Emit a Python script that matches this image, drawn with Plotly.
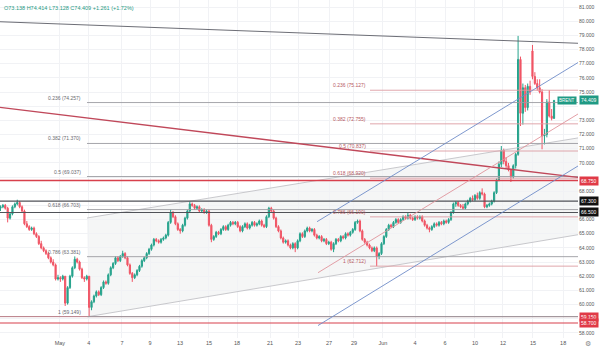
import plotly.graph_objects as go

# ---------------------------------------------------------------- data
# Brent, 4-hour candles (index = bar number)
opens = [
    66.8, 66.9, 67.0, 66.8, 66.1, 66.4, 66.9, 67.1, 67.2, 66.9,
    66.6, 65.7, 65.5, 65.3, 65.4, 65.0, 64.8, 64.3, 64.0, 63.8,
    63.6, 63.3, 63.0, 62.8, 61.8, 61.9, 61.8, 62.0, 60.1, 61.2,
    62.0, 62.6, 63.2, 63.0, 62.5, 61.9, 61.8, 62.0, 59.8, 60.2,
    60.6, 60.9, 60.7, 61.2, 61.6, 61.5, 62.1, 62.6, 62.9, 63.3,
    63.1, 63.4, 63.6, 63.3, 62.8, 62.2, 61.9, 62.1, 62.4, 62.7,
    63.1, 63.3, 63.6, 63.9, 64.2, 64.6, 64.5, 64.4, 64.6, 64.7,
    64.9, 65.8, 66.5, 66.2, 65.7, 65.3, 65.2, 65.6, 66.1, 66.6,
    67.1, 67.0, 66.8, 66.9, 66.6, 66.7, 66.5, 66.6, 65.6, 64.6,
    64.8, 65.1, 65.0, 65.3, 65.5, 65.3, 65.6, 65.8, 65.7, 65.8,
    65.5, 65.2, 65.5, 65.7, 65.4, 65.6, 65.8, 65.6, 65.7, 65.9,
    65.6, 65.5, 66.2, 66.8, 66.6, 66.1, 65.5, 65.2, 64.7, 64.4,
    64.5, 64.2, 64.0, 64.3, 64.0, 64.5, 65.0, 64.8, 65.2, 65.4,
    65.2, 65.3, 64.9, 64.7, 64.8, 64.5, 64.6, 64.3, 64.4, 63.9,
    64.3, 64.6, 64.5, 64.8, 64.7, 65.0, 64.9, 65.1, 65.3, 65.8,
    65.9, 65.2, 64.6, 64.4, 64.2, 64.0, 63.8, 64.0, 63.4, 63.6,
    64.3, 64.8, 65.3, 65.6, 65.5, 65.8, 66.0, 65.8, 66.0, 66.2,
    66.1, 66.3, 66.1, 66.0, 66.2, 66.1, 66.2, 65.9, 65.6, 65.4,
    65.3, 65.5, 65.7, 65.6, 65.8, 65.7, 65.9, 65.8, 66.0, 66.5,
    67.1, 67.2, 67.0, 66.9, 66.8, 67.1, 67.3, 67.5, 67.4, 67.7,
    67.5, 67.9, 67.8, 66.9, 67.0, 67.1, 67.3, 67.9, 68.8, 69.9,
    70.9, 70.1, 69.8, 69.5, 69.0, 69.8, 70.6, 77.3, 73.5, 75.3,
    73.9, 75.4, 77.9, 76.1, 75.6, 75.3, 75.0, 71.9, 72.0, 74.3,
    73.3, 73.138,
]
highs = [
    67.0, 67.1, 67.1, 66.9, 66.5, 67.0, 67.2, 67.4, 67.3, 67.0,
    66.7, 65.9, 65.6, 65.5, 65.5, 65.1, 64.9, 64.5, 64.1, 63.9,
    63.7, 63.4, 63.2, 62.9, 62.1, 62.0, 62.1, 62.0, 61.3, 62.1,
    62.7, 63.4, 63.3, 63.1, 62.6, 62.0, 62.1, 62.0, 60.3, 60.7,
    61.0, 61.0, 61.3, 61.7, 61.7, 62.2, 62.7, 63.0, 63.4, 63.4,
    63.5, 63.8, 63.7, 63.4, 62.9, 62.3, 62.2, 62.5, 62.8, 63.2,
    63.4, 63.7, 64.0, 64.3, 64.7, 64.7, 64.6, 64.7, 64.8, 65.0,
    65.9, 66.7, 66.6, 66.3, 65.8, 65.4, 65.7, 66.2, 66.7, 67.3,
    67.2, 67.1, 67.0, 67.0, 66.8, 66.8, 66.7, 66.7, 65.7, 64.9,
    65.2, 65.2, 65.4, 65.6, 65.6, 65.7, 65.9, 65.9, 65.9, 65.9,
    65.6, 65.6, 65.8, 65.8, 65.7, 65.9, 65.9, 65.8, 66.0, 66.0,
    65.7, 66.3, 66.9, 66.9, 66.7, 66.2, 65.6, 65.3, 64.8, 64.6,
    64.6, 64.3, 64.4, 64.4, 64.6, 65.1, 65.1, 65.3, 65.5, 65.5,
    65.4, 65.4, 65.0, 64.9, 64.9, 64.7, 64.7, 64.5, 64.5, 64.4,
    64.7, 64.7, 64.9, 64.9, 65.1, 65.1, 65.2, 65.4, 65.9, 66.0,
    66.0, 65.3, 64.7, 64.5, 64.3, 64.1, 64.1, 64.1, 63.7, 64.4,
    64.9, 65.4, 65.7, 65.7, 65.9, 66.1, 66.1, 66.1, 66.3, 66.3,
    66.5, 66.4, 66.2, 66.3, 66.3, 66.3, 66.3, 66.0, 65.7, 65.5,
    65.6, 65.8, 65.8, 65.9, 65.9, 66.0, 66.0, 66.1, 66.6, 67.2,
    67.3, 67.3, 67.1, 67.1, 67.2, 67.4, 67.6, 67.7, 67.8, 67.9,
    68.0, 68.2, 67.9, 67.1, 67.2, 67.4, 68.0, 68.9, 70.1, 71.19,
    71.0, 70.4, 70.0, 69.6, 69.9, 70.7, 78.96, 77.5, 75.6, 75.5,
    75.6, 75.8, 78.32, 76.4, 75.9, 75.9, 75.2, 72.4, 74.5, 75.14,
    73.8, 74.414,
]
lows = [
    66.6, 66.8, 66.7, 65.8, 66.0, 66.3, 66.8, 67.0, 66.8, 66.5,
    65.6, 65.4, 65.2, 65.2, 64.9, 64.7, 64.2, 63.9, 63.7, 63.5,
    63.2, 62.9, 62.7, 61.7, 61.7, 61.6, 61.7, 59.9, 60.0, 61.1,
    61.9, 62.5, 62.9, 62.4, 61.8, 61.6, 61.7, 59.149, 59.6, 60.1,
    60.5, 60.6, 60.6, 61.1, 61.4, 61.4, 62.0, 62.5, 62.8, 63.0,
    63.0, 63.3, 63.2, 62.7, 62.1, 61.6, 61.8, 62.0, 62.3, 62.6,
    63.0, 63.2, 63.5, 63.8, 64.1, 64.4, 64.3, 64.3, 64.5, 64.6,
    64.8, 65.7, 66.1, 65.6, 65.2, 65.0, 65.1, 65.5, 66.0, 66.5,
    66.9, 66.7, 66.7, 66.5, 66.5, 66.4, 66.4, 65.5, 64.4, 64.5,
    64.7, 64.9, 64.9, 65.2, 65.2, 65.2, 65.5, 65.6, 65.6, 65.4,
    65.1, 65.1, 65.4, 65.3, 65.3, 65.5, 65.5, 65.5, 65.6, 65.5,
    65.4, 65.4, 66.1, 66.5, 66.0, 65.4, 65.1, 64.6, 64.3, 64.3,
    64.1, 63.9, 63.9, 63.7, 63.9, 64.4, 64.7, 64.7, 65.1, 65.1,
    65.1, 64.8, 64.6, 64.6, 64.4, 64.4, 64.2, 64.2, 63.8, 63.7,
    64.2, 64.4, 64.4, 64.6, 64.6, 64.8, 64.8, 65.0, 65.2, 65.7,
    65.1, 64.5, 64.3, 64.1, 63.9, 63.7, 63.7, 62.712, 63.2, 63.5,
    64.2, 64.7, 65.2, 65.4, 65.4, 65.7, 65.7, 65.7, 65.9, 66.0,
    66.0, 66.0, 65.9, 65.9, 66.0, 66.0, 65.8, 65.5, 65.3, 65.1,
    65.2, 65.4, 65.5, 65.5, 65.6, 65.6, 65.7, 65.7, 65.9, 66.4,
    66.9, 66.9, 66.8, 66.7, 66.7, 67.0, 67.2, 67.3, 67.3, 67.4,
    67.4, 67.7, 66.8, 66.8, 66.9, 67.0, 67.2, 67.8, 68.7, 69.7,
    69.9, 69.6, 69.4, 68.65, 68.9, 69.6, 70.5, 72.6, 72.7, 73.6,
    73.7, 74.8, 75.9, 75.5, 75.1, 74.9, 70.96, 71.3, 71.8, 73.2,
    73.0, 73.128,
]
closes = [
    66.9, 67.0, 66.8, 66.1, 66.4, 66.9, 67.1, 67.2, 66.9, 66.6,
    65.7, 65.5, 65.3, 65.4, 65.0, 64.8, 64.3, 64.0, 63.8, 63.6,
    63.3, 63.0, 62.8, 61.8, 61.9, 61.8, 62.0, 60.1, 61.2, 62.0,
    62.6, 63.2, 63.0, 62.5, 61.9, 61.8, 62.0, 59.8, 60.2, 60.6,
    60.9, 60.7, 61.2, 61.6, 61.5, 62.1, 62.6, 62.9, 63.3, 63.1,
    63.4, 63.6, 63.3, 62.8, 62.2, 61.9, 62.1, 62.4, 62.7, 63.1,
    63.3, 63.6, 63.9, 64.2, 64.6, 64.5, 64.4, 64.6, 64.7, 64.9,
    65.8, 66.5, 66.2, 65.7, 65.3, 65.2, 65.6, 66.1, 66.6, 67.1,
    67.0, 66.8, 66.9, 66.6, 66.7, 66.5, 66.6, 65.6, 64.6, 64.8,
    65.1, 65.0, 65.3, 65.5, 65.3, 65.6, 65.8, 65.7, 65.8, 65.5,
    65.2, 65.5, 65.7, 65.4, 65.6, 65.8, 65.6, 65.7, 65.9, 65.6,
    65.5, 66.2, 66.8, 66.6, 66.1, 65.5, 65.2, 64.7, 64.4, 64.5,
    64.2, 64.0, 64.3, 64.0, 64.5, 65.0, 64.8, 65.2, 65.4, 65.2,
    65.3, 64.9, 64.7, 64.8, 64.5, 64.6, 64.3, 64.4, 63.9, 64.3,
    64.6, 64.5, 64.8, 64.7, 65.0, 64.9, 65.1, 65.3, 65.8, 65.9,
    65.2, 64.6, 64.4, 64.2, 64.0, 63.8, 64.0, 63.4, 63.6, 64.3,
    64.8, 65.3, 65.6, 65.5, 65.8, 66.0, 65.8, 66.0, 66.2, 66.1,
    66.3, 66.1, 66.0, 66.2, 66.1, 66.2, 65.9, 65.6, 65.4, 65.3,
    65.5, 65.7, 65.6, 65.8, 65.7, 65.9, 65.8, 66.0, 66.5, 67.1,
    67.2, 67.0, 66.9, 66.8, 67.1, 67.3, 67.5, 67.4, 67.7, 67.5,
    67.9, 67.8, 66.9, 67.0, 67.1, 67.3, 67.9, 68.8, 69.9, 70.9,
    70.1, 69.8, 69.5, 69.0, 69.8, 70.6, 77.3, 73.5, 75.3, 73.9,
    75.4, 75.0, 76.1, 75.6, 75.3, 75.0, 71.9, 72.0, 74.3, 73.3,
    73.14, 74.409,
]

# time axis labels (bar number of each labelled session)
tick_bars = [24.8, 36.9, 50.7, 62.4, 74.9, 87.0, 98.7, 112.5, 124.2,
             137.1, 147.5, 159.6, 173.0, 185.5, 198.0, 209.7, 222.2, 234.8]
tick_text = ["May", "4", "7", "9", "13", "15", "18", "21", "23",
             "27", "29", "Jun", "4", "6", "10", "12", "15", "18"]

# price scale: round levels; the ones sitting under a price tag stay unlabelled
price_ticks = list(range(58, 82))
hidden_price_labels = [59, 67, 69, 74]

# Fibonacci retracements: (ratio, price)
fib_a_levels = [("0.236", 74.257), ("0.382", 71.370), ("0.5", 69.037),
                ("0.618", 66.703), ("0.786", 63.381), ("1", 59.149)]
fib_a_start = 36.1
fib_b_levels = [("0.236", 75.127), ("0.382", 72.755), ("0.5", 70.837),
                ("0.618", 68.920), ("0.786", 66.190), ("1", 62.712)]
fib_b_start = 154.2

# horizontal levels: (price, line colour, line width, tag background)
levels = [(68.75, "#d8404c", 1.5, "#e03a47"),
          (67.30, "#505258", 1.1, "#111111"),
          (66.50, "#505258", 1.1, "#111111"),
          (59.15, "#b87a84", 1.0, "#e03a47"),
          (58.70, "#d8404c", 1.1, "#e03a47")]

# trend lines: ((bar, price), (bar, price))
resistance_top = ((-0.2, 79.96), (241.0, 78.44))
falling_red = ((-0.2, 73.91), (241.0, 68.97))
gray_upper = ((36.1, 66.11), (241.0, 71.76))
gray_lower = ((36.9, 59.16), (241.0, 64.93))
blue_upper = ((132.1, 65.85), (241.0, 77.08))
blue_lower = ((132.5, 58.52), (241.0, 69.78))
pink_line = ((132.5, 62.25), (241.0, 73.45))

last_price = 74.409
header = "O73.138 H74.414 L73.128 C74.409 +1.261 (+1.72%)"

# ---------------------------------------------------------------- figure
UP, DOWN = "#26a38c", "#f05565"
FONT = "Liberation Sans, Arial, sans-serif"
bars = list(range(len(closes)))

fig = go.Figure(go.Candlestick(
    x=bars, open=opens, high=highs, low=lows, close=closes,
    increasing=dict(line=dict(color=UP, width=1), fillcolor=UP),
    decreasing=dict(line=dict(color=DOWN, width=1), fillcolor=DOWN),
    whiskerwidth=0, showlegend=False, hoverinfo="skip",
))

shapes = []


def seg(line, color, width=1.0, layer="above"):
    (x0, y0), (x1, y1) = line
    shapes.append(dict(type="line", xref="x", yref="y", x0=x0, y0=y0,
                       x1=x1, y1=y1, layer=layer,
                       line=dict(color=color, width=width)))


# shaded rising channel
(ux0, uy0), (ux1, uy1) = gray_upper
(lx0, ly0), (lx1, ly1) = gray_lower
shapes.append(dict(type="path", xref="x", yref="y", layer="below",
                   path=f"M {ux0},{uy0} L {ux1},{uy1} L {lx1},{ly1} L {lx0},{ly0} Z",
                   fillcolor="rgba(120,123,134,0.07)", line=dict(width=0)))
seg(gray_upper, "#c2c2c6", 0.9)
seg(gray_lower, "#c2c2c6", 0.9)

# full-width horizontal levels
for price, col, w, _ in levels:
    shapes.append(dict(type="line", xref="paper", yref="y", x0=0, x1=1,
                       y0=price, y1=price, layer="above",
                       line=dict(color=col, width=w)))

# Fibonacci levels
for _, price in fib_a_levels:
    shapes.append(dict(type="line", xref="x", yref="y", x0=fib_a_start,
                       x1=241.0, y0=price, y1=price, layer="above",
                       line=dict(color="#9c9ca2", width=0.9)))
for _, price in fib_b_levels:
    shapes.append(dict(type="line", xref="x", yref="y", x0=fib_b_start,
                       x1=241.0, y0=price, y1=price, layer="above",
                       line=dict(color="#dc9ca3", width=0.9)))

seg(resistance_top, "#5c5e66", 0.9)
seg(falling_red, "#c0485a", 1.3)
seg(blue_upper, "#6f8cc8", 0.9)
seg(blue_lower, "#6f8cc8", 0.9)
seg(pink_line, "#e0949c", 0.9)

annotations = []
for ratio, price in fib_a_levels:
    annotations.append(dict(xref="x", yref="y", x=fib_a_start - 1.7, y=price,
                            yshift=5, xanchor="right", yanchor="middle",
                            text=f"{ratio} ({price:.3f})", showarrow=False,
                            font=dict(family=FONT, size=5, color="#6a6a70")))
for ratio, price in fib_b_levels:
    annotations.append(dict(xref="x", yref="y", x=fib_b_start - 1.0, y=price,
                            yshift=5, xanchor="right", yanchor="middle",
                            text=f"{ratio} ({price:.3f})", showarrow=False,
                            font=dict(family=FONT, size=5, color="#b75a64")))

# price-scale tags
for price, _, _, bg in levels:
    annotations.append(dict(xref="paper", yref="y", x=1, xshift=1, y=price,
                            xanchor="left", yanchor="middle",
                            text=f"{price:.3f}", showarrow=False, bgcolor=bg,
                            borderpad=1,
                            font=dict(family=FONT, size=5, color="white")))
annotations.append(dict(xref="paper", yref="y", x=1, xshift=1, y=last_price,
                        xanchor="left", yanchor="middle",
                        text=f"{last_price:.3f}", showarrow=False,
                        bgcolor="#1f9a84", borderpad=1,
                        font=dict(family=FONT, size=5, color="white")))
annotations.append(dict(xref="paper", yref="y", x=1, xshift=-1, y=last_price,
                        xanchor="right", yanchor="middle", text="BRENT",
                        showarrow=False, bgcolor="#1f9a84", borderpad=1,
                        font=dict(family=FONT, size=4.5, color="white")))

annotations.append(dict(xref="paper", yref="paper", x=0, xshift=2, y=1,
                        yshift=-3, xanchor="left", yanchor="top", text=header,
                        showarrow=False,
                        font=dict(family=FONT, size=5.5, color="#1f9a84")))
annotations.append(dict(xref="paper", yref="paper", x=1, xshift=10, y=0,
                        yshift=-6, xanchor="center", yanchor="middle",
                        text="⚙", showarrow=False,
                        font=dict(family="DejaVu Sans", size=7, color="#888")))

y_bottom = 81 - 331 / 14.17
y_top = 81 + 7 / 14.17
price_text = ["" if p in hidden_price_labels else f"{p:.3f}" for p in price_ticks]

fig.update_layout(
    width=600, height=350,
    margin=dict(l=0, r=22, t=0, b=12),
    paper_bgcolor="white", plot_bgcolor="white",
    shapes=shapes, annotations=annotations,
    font=dict(family=FONT, size=5.5, color="#444"),
    xaxis=dict(range=[-0.2, 241.0], rangeslider=dict(visible=False),
               tickmode="array", tickvals=tick_bars, ticktext=tick_text,
               showgrid=True, gridcolor="#f1f2f5", gridwidth=1,
               zeroline=False, showline=False, ticks="",
               tickfont=dict(size=5.5, color="#555")),
    yaxis=dict(side="right", range=[y_bottom, y_top], tickmode="array",
               tickvals=price_ticks, ticktext=price_text,
               showgrid=True, gridcolor="#f1f2f5",
               zeroline=False, showline=False, ticks="",
               tickfont=dict(size=5, color="#555")),
)

fig.write_html("out.html")
